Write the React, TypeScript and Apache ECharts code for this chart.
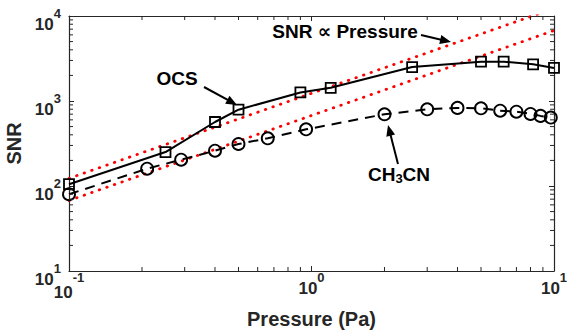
import React, { useEffect, useRef } from 'react';
import * as echarts from 'echarts';

// ---- data ----
const ocsPressure = [0.1, 0.25, 0.4, 0.5, 0.9, 1.2, 2.6, 5, 6.2, 8.2, 10];
const ocsSNR = [105, 251, 566, 790, 1260, 1430, 2510, 2900, 2900, 2700, 2450];

const ch3cnPressure = [0.1, 0.21, 0.29, 0.4, 0.5, 0.66, 0.95, 2, 3, 4, 5, 6, 7, 8, 8.8, 9.7];
const ch3cnSNR = [80, 160, 204, 260, 312, 364, 464, 698, 798, 830, 820, 770, 748, 705, 668, 638];

const refPressure = [0.1, 10];
const refUpperSNR = [123, 12300];
const refLowerSNR = [67.5, 6750];

const xMinorTicks = [0.2, 0.3, 0.4, 0.5, 0.6, 0.7, 0.8, 0.9, 2, 3, 4, 5, 6, 7, 8, 9];
const yMinorTicks = [20, 30, 40, 50, 60, 70, 80, 90, 200, 300, 400, 500, 600, 700, 800, 900, 2000, 3000, 4000, 5000, 6000, 7000, 8000, 9000];

const X_MIN = 0.1;
const X_MAX = 10;
const Y_MIN = 10;
const Y_MAX = 10000;

const FONT = '"Liberation Sans", Arial, Helvetica, "DejaVu Sans", sans-serif';
const AXIS_COLOR = '#262626';
const TICK_LEN = 5;

const zip = (xs: number[], ys: number[]) => xs.map((x, i) => [x, ys[i]]);

const tickFormatter = (v: number) => {
  const e = Math.round(Math.log10(v));
  return e < 0 ? `{bn|10}{sn|${e}}` : `{b|10}{s|${e}}`;
};

const tickRich = {
  b: { fontSize: 17, fontWeight: 'bold', fontFamily: FONT, color: AXIS_COLOR, lineHeight: 26, verticalAlign: 'bottom' },
  s: { fontSize: 13, fontWeight: 'bold', fontFamily: FONT, color: AXIS_COLOR, lineHeight: 13, verticalAlign: 'top' },
  bn: { fontSize: 17, fontWeight: 'bold', fontFamily: FONT, color: AXIS_COLOR, lineHeight: 30, verticalAlign: 'bottom' },
  sn: { fontSize: 13, fontWeight: 'bold', fontFamily: FONT, color: AXIS_COLOR, lineHeight: 17, verticalAlign: 'top' },
};

function arrow(x1: number, y1: number, x2: number, y2: number) {
  const dx = x2 - x1;
  const dy = y2 - y1;
  const len = Math.sqrt(dx * dx + dy * dy);
  const ux = dx / len;
  const uy = dy / len;
  const hl = 11;
  const hw = 4.5;
  const bx = x2 - ux * hl;
  const by = y2 - uy * hl;
  return [
    {
      type: 'line',
      shape: { x1, y1, x2: bx + ux * 2, y2: by + uy * 2 },
      style: { stroke: '#000', lineWidth: 2 },
    },
    {
      type: 'polygon',
      shape: {
        points: [
          [x2, y2],
          [bx - uy * hw, by + ux * hw],
          [bx + uy * hw, by - ux * hw],
        ],
      },
      style: { fill: '#000' },
    },
  ];
}

export default function App() {
  const ref = useRef<HTMLDivElement>(null);

  useEffect(() => {
    document.body.style.margin = '0';
    if (!ref.current) return;
    const chart = echarts.init(ref.current, undefined, { renderer: 'svg' });

    const minorTickStyle = { stroke: AXIS_COLOR, lineWidth: 1 };

    const axisCommon = {
      axisLine: { show: true, onZero: false, lineStyle: { color: AXIS_COLOR, width: 1.2 } },
      axisTick: { show: true, inside: true, length: TICK_LEN, lineStyle: { color: AXIS_COLOR, width: 1 } },
      splitLine: { show: false },
      minorTick: { show: false },
    };

    chart.setOption({
      animation: false,
      backgroundColor: '#fff',
      grid: { left: 69, right: 14, top: 16, bottom: 62, containLabel: false, outerBoundsMode: 'none' },
      xAxis: [
        {
          type: 'log',
          logBase: 10,
          min: X_MIN,
          max: X_MAX,
          position: 'bottom',
          ...axisCommon,
          axisLabel: { formatter: tickFormatter, rich: tickRich, margin: 0 },
          name: 'Pressure (Pa)',
          nameLocation: 'middle',
          nameGap: 38,
          nameTextStyle: { fontSize: 20, fontWeight: 'bold', fontFamily: FONT, color: AXIS_COLOR },
        },
        {
          type: 'log',
          logBase: 10,
          min: X_MIN,
          max: X_MAX,
          position: 'top',
          ...axisCommon,
          axisLabel: { show: false },
        },
      ],
      yAxis: [
        {
          type: 'log',
          logBase: 10,
          min: Y_MIN,
          max: Y_MAX,
          position: 'left',
          ...axisCommon,
          axisLabel: { formatter: tickFormatter, rich: tickRich, margin: 8, padding: [7, 0, 0, 0] },
          name: 'SNR',
          nameLocation: 'middle',
          nameGap: 45,
          nameRotate: 90,
          nameTextStyle: { fontSize: 20, fontWeight: 'bold', fontFamily: FONT, color: AXIS_COLOR },
        },
        {
          type: 'log',
          logBase: 10,
          min: Y_MIN,
          max: Y_MAX,
          position: 'right',
          ...axisCommon,
          axisLabel: { show: false },
        },
      ],
      series: [
        {
          type: 'line',
          data: zip(refPressure, refUpperSNR),
          symbol: 'none',
          clip: true,
          lineStyle: { color: '#ff0000', width: 2.8, type: [0.5, 7.5], cap: 'round' },
          z: 1,
        },
        {
          type: 'line',
          data: zip(refPressure, refLowerSNR),
          symbol: 'none',
          clip: true,
          lineStyle: { color: '#ff0000', width: 2.8, type: [0.5, 7.5], cap: 'round' },
          z: 1,
        },
        {
          type: 'line',
          name: 'OCS',
          data: zip(ocsPressure, ocsSNR),
          symbol: 'rect',
          symbolSize: 10,
          clip: false,
          lineStyle: { color: '#000', width: 2 },
          itemStyle: { color: 'rgba(0,0,0,0)', borderColor: '#000', borderWidth: 1.8 },
          z: 3,
        },
        {
          type: 'line',
          name: 'CH3CN',
          data: zip(ch3cnPressure, ch3cnSNR),
          symbol: 'circle',
          symbolSize: 12,
          clip: false,
          lineStyle: { color: '#000', width: 2, type: [10, 7] },
          itemStyle: { color: 'rgba(0,0,0,0)', borderColor: '#000', borderWidth: 1.9 },
          z: 3,
        },
        {
          type: 'custom',
          coordinateSystem: 'cartesian2d',
          silent: true,
          clip: false,
          data: xMinorTicks.map((v) => [v, Y_MIN]),
          renderItem: (params: any, api: any) => {
            const x = api.value(0);
            const b = api.coord([x, Y_MIN]);
            const t = api.coord([x, Y_MAX]);
            return {
              type: 'group',
              children: [
                { type: 'line', shape: { x1: b[0], y1: b[1], x2: b[0], y2: b[1] - TICK_LEN + 1 }, style: minorTickStyle },
                { type: 'line', shape: { x1: t[0], y1: t[1], x2: t[0], y2: t[1] + TICK_LEN - 1 }, style: minorTickStyle },
              ],
            };
          },
          z: 5,
        },
        {
          type: 'custom',
          coordinateSystem: 'cartesian2d',
          silent: true,
          clip: false,
          data: yMinorTicks.map((v) => [X_MIN, v]),
          renderItem: (params: any, api: any) => {
            const y = api.value(1);
            const l = api.coord([X_MIN, y]);
            const r = api.coord([X_MAX, y]);
            return {
              type: 'group',
              children: [
                { type: 'line', shape: { x1: l[0], y1: l[1], x2: l[0] + TICK_LEN - 1, y2: l[1] }, style: minorTickStyle },
                { type: 'line', shape: { x1: r[0], y1: r[1], x2: r[0] - TICK_LEN + 1, y2: r[1] }, style: minorTickStyle },
              ],
            };
          },
          z: 5,
        },
      ],
      graphic: [
        {
          type: 'text',
          x: 177,
          y: 78,
          style: { text: 'OCS', fontSize: 19, fontWeight: 'bold', fontFamily: FONT, fill: '#000', align: 'center', verticalAlign: 'middle' },
        },
        ...arrow(204, 87, 237, 105),
        {
          type: 'text',
          x: 345,
          y: 31,
          style: { text: 'SNR ∝ Pressure', fontSize: 19, fontWeight: 'bold', fontFamily: FONT, fill: '#000', align: 'center', verticalAlign: 'middle' },
        },
        ...arrow(421, 35, 451, 42),
        {
          type: 'text',
          x: 399,
          y: 175,
          style: {
            text: '{a|CH}{s|3}{a|CN}',
            align: 'center',
            verticalAlign: 'middle',
            rich: {
              a: { fontSize: 19, fontWeight: 'bold', fontFamily: FONT, fill: '#000', color: '#000', lineHeight: 20, verticalAlign: 'top' },
              s: { fontSize: 13, fontWeight: 'bold', fontFamily: FONT, fill: '#000', color: '#000', lineHeight: 13, verticalAlign: 'bottom' },
            },
          },
        },
        ...arrow(398, 164, 388, 125),
      ],
    });

    return () => chart.dispose();
  }, []);

  return <div ref={ref} style={{ width: 568, height: 333 }} />;
}
